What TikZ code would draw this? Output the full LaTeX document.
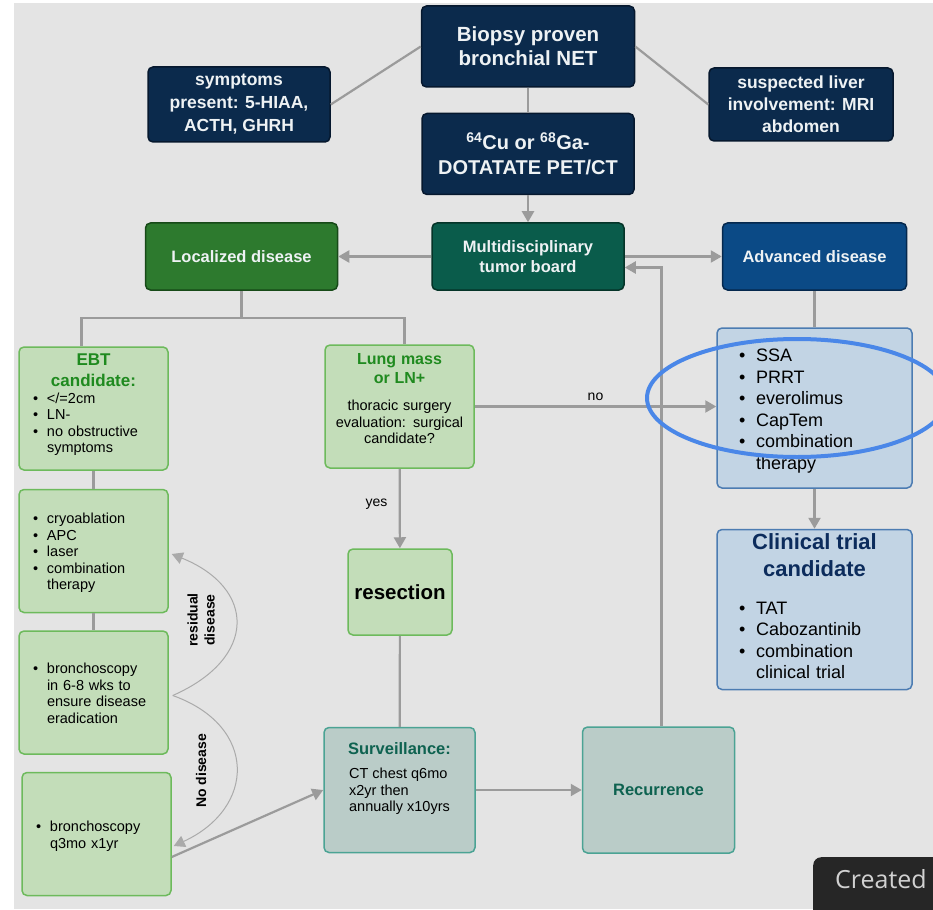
\documentclass[tikz,border=0pt]{standalone}
\usepackage{fontspec}
\setmainfont{Liberation Sans}
\newfontfamily\tagfont{Open Sans}
\usetikzlibrary{positioning,arrows.meta}

\definecolor{bggray}{HTML}{E4E4E4}
\definecolor{navyfill}{HTML}{0B2A4C}
\definecolor{navyedge}{HTML}{06182E}
\definecolor{tealfill}{HTML}{0A5C4B}
\definecolor{tealedge}{HTML}{053428}
\definecolor{locfill}{HTML}{2D7A2E}
\definecolor{locedge}{HTML}{174A18}
\definecolor{advfill}{HTML}{0B4A86}
\definecolor{advedge}{HTML}{05284D}
\definecolor{palegreen}{HTML}{C3DDB9}
\definecolor{greenedge}{HTML}{6DBA5C}
\definecolor{paleteal}{HTML}{BACCC8}
\definecolor{paletealedge}{HTML}{4BA394}
\definecolor{paleblue}{HTML}{C2D4E4}
\definecolor{blueedge}{HTML}{4C7CB2}
\definecolor{titlegreen}{HTML}{1F8A1F}
\definecolor{titleteal}{HTML}{0E6250}
\definecolor{titlenavy}{HTML}{0C2C5C}
\definecolor{linkgray}{HTML}{9B9B9B}
\definecolor{ringblue}{HTML}{4A87E8}
\definecolor{offwhite}{HTML}{EEF2F4}

% bullet line, wrapped lines kept under the text
\newcommand{\bitem}[2][14pt]{\par\noindent\makebox[#1][l]{\textbullet}\begin{tabular}[t]{@{}l@{}}#2\end{tabular}}

\begin{document}
\begin{tikzpicture}[x=1pt,y=-1pt,
  box/.style={rectangle,rounded corners=5pt,line width=1.5pt,inner sep=0pt},
  darkbox/.style={box,text=offwhite,align=center,font=\bfseries\fontsize{16.5}{20}\selectfont},
  navybox/.style={darkbox,fill=navyfill,draw=navyedge},
  greenbox/.style={box,fill=palegreen,draw=greenedge,minimum width=149pt,minimum height=123pt,
    text width=121pt,align=left,font=\fontsize{14.5}{16.5}\selectfont},
  tealbox/.style={box,fill=paleteal,draw=paletealedge,minimum width=151pt,minimum height=125pt,
    align=center,font=\fontsize{14.5}{16.5}\selectfont},
  bluebox/.style={box,fill=paleblue,draw=blueedge,minimum width=195pt,minimum height=160pt,
    text width=151pt,align=left,font=\fontsize{18}{21.5}\selectfont},
  link/.style={draw=linkgray,line width=2.2pt},
  arr/.style={link,-{Triangle[length=11pt,width=12pt]}},
  loopline/.style={draw=linkgray!85,line width=1pt,-{Triangle[length=11pt,width=12pt]}},
  lbl/.style={font=\fontsize{14}{16}\selectfont},
  looplbl/.style={font=\bfseries\fontsize{14}{17}\selectfont,align=center,rotate=90},
  tag/.style={rectangle,rounded corners=8pt,fill=black!85,text=black!18,anchor=north west,
    inner xsep=22pt,inner ysep=12pt,minimum height=70pt,text depth=30pt,font=\tagfont\fontsize{25}{28}\selectfont}
]
\useasboundingbox (0,0) rectangle (933,909);
\clip (0,0) rectangle (933,909);
\fill[bggray] (14,3) rectangle (933,909);

% top row
\node[navybox,minimum width=213pt,minimum height=81pt,font=\bfseries\fontsize{20.5}{24}\selectfont]
  (biopsy) at (528,46.5) {Biopsy proven\\bronchial NET};
\node[navybox,minimum width=212pt,minimum height=81pt,font=\bfseries\fontsize{20}{25}\selectfont]
  (pet) [below=25pt of biopsy] {\textsuperscript{64}Cu or \textsuperscript{68}Ga-\\DOTATATE PET/CT};
\node[navybox,minimum width=182pt,minimum height=75pt,font=\bfseries\fontsize{17.5}{23}\selectfont]
  (symptoms) at (239,104.5) {symptoms\\present: 5-HIAA,\\ACTH, GHRH};
\node[navybox,minimum width=184pt,minimum height=73pt,font=\bfseries\fontsize{17.5}{22}\selectfont]
  (liver) at (801,104.5) {suspected liver\\involvement: MRI\\abdomen};

% decision row
\node[darkbox,fill=tealfill,draw=tealedge,minimum width=192pt,minimum height=67pt]
  (multi) [below=27pt of pet] {Multidisciplinary\\tumor board};
\node[darkbox,fill=locfill,draw=locedge,minimum width=192pt,minimum height=67pt]
  (localized) [left=93pt of multi] {Localized disease};
\node[darkbox,fill=advfill,draw=advedge,minimum width=184pt,minimum height=67pt]
  (advanced) [right=97pt of multi] {Advanced disease};

% localized branch
\node[greenbox] (ebt) at (93.5,408.5) {{\centering\bfseries\color{titlegreen}\fontsize{17}{21}\selectfont EBT\\candidate:\par}
  \bitem{</=2cm}\bitem{LN-}\bitem{no obstructive\\symptoms}\par\noindent\rule{0pt}{4pt}};
\node[greenbox,text width=135pt,align=center] (lung) at (399.5,406.5)
  {{\bfseries\color{titlegreen}\fontsize{16}{19}\selectfont Lung mass\\or LN+\par}\vspace{11pt}
  thoracic surgery\\evaluation: surgical\\candidate?\par\noindent\rule{0pt}{12pt}};
\node[greenbox] (cryo) [below=18pt of ebt]
  {\bitem{cryoablation}\bitem{APC}\bitem{laser}\bitem{combination\\therapy}};
\node[greenbox] (bronch68) [below=17pt of cryo]
  {\bitem{bronchoscopy\\in 6-8 wks to\\ensure disease\\eradication}};
\node[greenbox] (bronchq3) [below=17pt of bronch68,xshift=3pt]
  {\bitem{bronchoscopy\\q3mo x1yr}};
\node[greenbox,minimum width=104pt,minimum height=86pt,text width=100pt,align=center,
  font=\bfseries\fontsize{20.5}{24}\selectfont] (resection) at (400,592) {resection};
\node[tealbox] (surv) at (399.5,790)
  {{\bfseries\color{titleteal}\fontsize{16.5}{20}\selectfont Surveillance:}\\[12pt]
  \begin{tabular}{@{}l@{}}CT chest q6mo\\x2yr then\\annually x10yrs\end{tabular}\\[20pt]};
\node[tealbox,minimum width=152pt,minimum height=126pt,font=\bfseries\fontsize{16.5}{20}\selectfont,
  text=titleteal] (recur) [right=106pt of surv] {Recurrence};

% advanced branch
\node[bluebox] (ssa) at (814.5,408)
  {\bitem[17pt]{SSA}\bitem[17pt]{PRRT}\bitem[17pt]{everolimus}\bitem[17pt]{CapTem}\bitem[17pt]{combination\\therapy}};
\node[bluebox] (trial) [below=40pt of ssa]
  {{\centering\bfseries\color{titlenavy}\fontsize{22}{27}\selectfont Clinical trial\\candidate\par}\vspace{16pt}
  \bitem[17pt]{TAT}\bitem[17pt]{Cabozantinib}\bitem[17pt]{combination\\clinical trial}};

% connectors
\draw[link] (biopsy.west) -- (symptoms.east);
\draw[link] (biopsy.east) -- (liver.west);
\draw[link] (biopsy) -- (pet);
\draw[arr] (pet) -- (multi);
\draw[arr] (multi) -- (localized);
\draw[arr] (multi) -- (advanced);
\draw[arr] ([xshift=3pt]recur.north) |- ([yshift=-11pt]multi.east);
\draw[link] (advanced) -- (ssa);
\draw[arr] (ssa) -- (trial);
\coordinate (fork) at ([yshift=-27pt]localized.south);
\draw[link] (localized.south) -- (fork);
\draw[link] ([xshift=-12pt]ebt.north) |- (fork) -| ([xshift=5pt]lung.north);
\draw[link] (ebt) -- (cryo);
\draw[link] (cryo) -- (bronch68);
\draw[arr] (lung) -- node[lbl,left=8pt,yshift=4pt] (yes) {yes} (resection);
\draw[arr] (lung.east) -- node[lbl,above=1pt] (no) {no} (lung.east -| ssa.west);
\draw[link] (resection) -- (surv);
\draw[arr] ([yshift=-23pt]bronchq3.east) -- (surv.west);
\draw[arr] (surv) -- (recur);

% loops after the check bronchoscopy
\draw[loopline] ([xshift=4pt,yshift=-3pt]bronch68.east) .. controls (258,658) and (256,588) .. ([xshift=3pt,yshift=-3pt]cryo.east);
\draw[loopline] ([xshift=4pt,yshift=-3pt]bronch68.east) .. controls (258,726) and (256,808) .. ([xshift=2pt,yshift=-12pt]bronchq3.east);
\node[looplbl] (residual) at (201,620) {residual\\disease};
\node[looplbl] (nodisease) at (201,771) {No disease};

\draw[ringblue,line width=4pt] (797,398) ellipse [x radius=150,y radius=59];

\node[tag] (created) at (813,857) {Created};
\end{tikzpicture}
\end{document}
